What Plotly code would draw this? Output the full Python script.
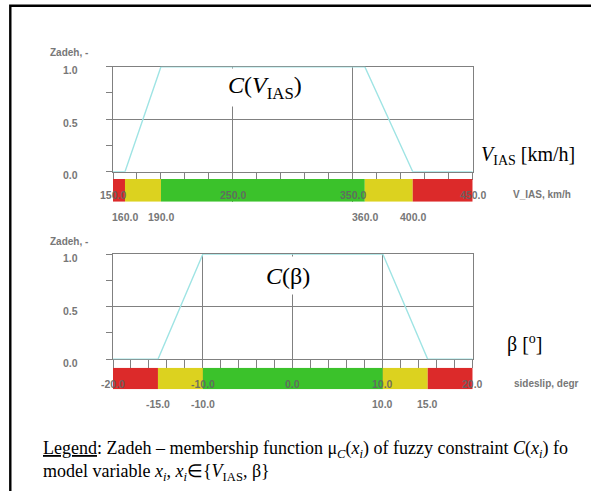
import numpy as np
import plotly.graph_objects as go

# ---------------- data ----------------
vias_x = [150, 160, 190, 360, 400, 450]          # km/h
vias_mu = [0.0, 0.0, 1.0, 1.0, 0.0, 0.0]
vias_zone_edges = [150, 160, 190, 360, 400, 450]
vias_zone_names = ["red", "yellow", "green", "yellow", "red"]
vias_major_ticks = [150, 250, 350, 450]
vias_limit_ticks = [160, 190, 360, 400]

beta_x = [-20, -15, -10, 10, 15, 20]             # deg
beta_mu = [0.0, 0.0, 1.0, 1.0, 0.0, 0.0]
beta_zone_edges = [-20, -15, -10, 10, 15, 20]
beta_zone_names = ["red", "yellow", "green", "yellow", "red"]
beta_major_ticks = [-20, -10, 0, 10, 20]
beta_limit_ticks = [-15, -10, 10, 15]

zadeh_ticks = [0.0, 0.5, 1.0]
zadeh_minor = [0.25, 0.75]

# ---------------- styles ----------------
W, H = 591, 491
ZONE_COL = {"red": "#dc2a2a", "yellow": "#dcd21f", "green": "#3bc22b"}
CYAN = "#9fe4e4"
GRID = "#808080"
LBL = "#777777"
SANS = "Liberation Sans, Arial, sans-serif"
SERIF = "Liberation Serif, Times New Roman, serif"


def px(x):
    return x / W


def py(y):
    return 1 - y / H


fig = go.Figure()

# membership functions
fig.add_trace(go.Scatter(x=vias_x, y=vias_mu, mode="lines",
                         line=dict(color=CYAN, width=1.4), xaxis="x", yaxis="y",
                         showlegend=False, hoverinfo="skip"))
fig.add_trace(go.Scatter(x=beta_x, y=beta_mu, mode="lines",
                         line=dict(color=CYAN, width=1.4), xaxis="x2", yaxis="y2",
                         showlegend=False, hoverinfo="skip"))

# colour zone bars


def zone_bar(edges, names, xa, ya):
    starts = edges[:-1]
    widths = list(np.diff(edges))
    return go.Bar(x=widths, base=starts, y=[0.5] * len(widths), orientation="h",
                  width=1.0, marker=dict(color=[ZONE_COL[n] for n in names],
                                         line=dict(width=0)),
                  xaxis=xa, yaxis=ya, showlegend=False, hoverinfo="skip")


fig.add_trace(zone_bar(vias_zone_edges, vias_zone_names, "x", "y3"))
fig.add_trace(zone_bar(beta_zone_edges, beta_zone_names, "x2", "y4"))

xdom = [px(113), px(472.7)]
top_plot = [py(171.7), py(66.7)]
top_bar = [py(201.7), py(179)]
bot_plot = [py(359.3), py(254)]
bot_bar = [py(389.3), py(367.7)]

common_x = dict(showline=True, mirror=True, linecolor=GRID, linewidth=1.2,
                showgrid=True, gridcolor=GRID, gridwidth=1.2, zeroline=False,
                ticks="outside", tickcolor=GRID, tickwidth=1.2,
                showticklabels=False, tickmode="array", layer="below traces",
                domain=xdom)
common_y = dict(showline=True, mirror=True, linecolor=GRID, linewidth=1.2,
                showgrid=True, gridcolor=GRID, gridwidth=1.2, zeroline=False,
                ticks="outside", ticklen=6, tickcolor=GRID, tickwidth=1.2,
                showticklabels=False, tickmode="array", tickvals=zadeh_ticks,
                minor=dict(tickmode="array", tickvals=zadeh_minor, ticks="outside",
                           ticklen=6, tickcolor=GRID, tickwidth=1.2, showgrid=False),
                range=[0, 1], layer="below traces")

fig.update_layout(
    width=W, height=H, margin=dict(l=0, r=0, t=0, b=0),
    paper_bgcolor="white", plot_bgcolor="white", showlegend=False,
    xaxis=dict(common_x, anchor="y", range=[vias_x[0], vias_x[-1]],
               tickvals=vias_major_ticks, ticklen=7,
               minor=dict(tick0=150, dtick=20, ticks="outside", ticklen=7,
                          tickcolor=GRID, tickwidth=1.2, showgrid=False)),
    yaxis=dict(common_y, anchor="x", domain=top_plot),
    xaxis2=dict(common_x, anchor="y2", range=[beta_x[0], beta_x[-1]],
                tickvals=beta_major_ticks, ticklen=8,
                minor=dict(tick0=-20, dtick=2, ticks="outside", ticklen=8,
                           tickcolor=GRID, tickwidth=1.2, showgrid=False)),
    yaxis2=dict(common_y, anchor="x2", domain=bot_plot),
    yaxis3=dict(anchor="x", domain=top_bar, range=[0, 1], visible=False),
    yaxis4=dict(anchor="x2", domain=bot_bar, range=[0, 1], visible=False),
)

ann = []
lblfont = dict(family=SANS, size=10.5, color=LBL, weight="bold")
barlblfont = dict(family=SANS, size=10.5, color="rgba(100,100,100,0.9)", weight="bold")


def txt(x, y, s, xref="paper", font=lblfont, xanchor="center", **kw):
    ann.append(dict(x=x, y=y, xref=xref, yref="paper", text=s, showarrow=False,
                    font=font, xanchor=xanchor, yanchor="middle", **kw))


# top panel labels
txt(px(47.5), py(52), "Zadeh, -", xanchor="left", font=dict(lblfont, size=10))
for v, yy in zip(zadeh_ticks, [175.5, 123.3, 70]):
    txt(px(70.5), py(yy), f"{v:.1f}")
for v in vias_major_ticks:
    txt(v, py(194.5), f"{v:.1f}", xref="x", font=barlblfont)
for v in vias_limit_ticks:
    txt(v, py(216.5), f"{v:.1f}", xref="x")
txt(px(511), py(194.5), "V_IAS, km/h", xanchor="left", font=dict(lblfont, size=10))

# bottom panel labels
txt(px(47.5), py(241), "Zadeh, -", xanchor="left", font=dict(lblfont, size=10))
for v, yy in zip(zadeh_ticks, [363.3, 310.7, 258.3]):
    txt(px(70.5), py(yy), f"{v:.1f}")
for v in beta_major_ticks:
    txt(v, py(383.5), f"{v:.1f}", xref="x2", font=barlblfont)
for v in beta_limit_ticks:
    txt(v, py(403.5), f"{v:.1f}", xref="x2")
txt(px(512), py(383.5), "sideslip, degr", xanchor="left", font=dict(lblfont, size=10))

# big serif labels
big = dict(family=SERIF, size=24, color="black")
mid = dict(family=SERIF, size=20, color="black")
ann.append(dict(x=px(264.5), y=py(88), xref="paper", yref="paper",
                text="<i>C</i>(<i>V</i><sub>IAS</sub>)", showarrow=False,
                font=big, bgcolor="white", borderpad=0, height=37,
                xanchor="center", yanchor="middle"))
ann.append(dict(x=px(288), y=py(275), xref="paper", yref="paper",
                text="<i>C</i>(β)", showarrow=False,
                font=big, bgcolor="white", borderpad=0, height=37,
                xanchor="center", yanchor="middle"))
ann.append(dict(x=px(479), y=py(155), xref="paper", yref="paper",
                text="<i>V</i><sub>IAS</sub> [km/h]", showarrow=False,
                font=mid, xanchor="left", yanchor="middle"))
ann.append(dict(x=px(505), y=py(343), xref="paper", yref="paper",
                text="β [<sup>o</sup>]", showarrow=False,
                font=mid, xanchor="left", yanchor="middle"))

# legend text
ann.append(dict(x=px(41), y=py(461), xref="paper", yref="paper",
                text=("<u>Legend</u>: Zadeh – membership function "
                      "μ<sub><i>C</i></sub>(<i>x</i><sub><i>i</i></sub>) of fuzzy "
                      "constraint <i>C</i>(<i>x</i><sub><i>i</i></sub>) fo<br>"
                      "model variable <i>x</i><sub><i>i</i></sub>, "
                      "<i>x</i><sub><i>i</i></sub>∈{<i>V</i><sub>IAS</sub>, β}"),
                showarrow=False, align="left",
                font=dict(family=SERIF, size=18, color="black"),
                xanchor="left", yanchor="middle"))

fig.update_layout(annotations=ann)

# outer frame (cut at right / bottom like the reference)
fig.add_shape(type="rect", xref="paper", yref="paper",
              x0=px(10.3), x1=1.1, y0=-0.1, y1=py(5.8),
              line=dict(color="black", width=2.4), fillcolor="rgba(0,0,0,0)")

fig.write_html("out.html", config={"displayModeBar": False},
               post_script="document.body.style.margin='0';"
                           "document.body.style.overflow='hidden';")
